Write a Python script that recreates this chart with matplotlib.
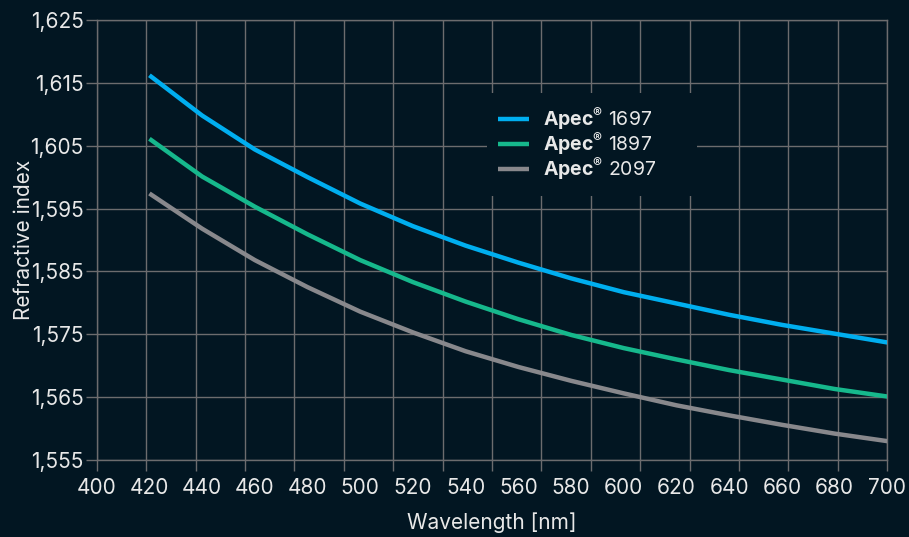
import matplotlib
matplotlib.use("Agg")
import matplotlib.pyplot as plt
from matplotlib.patches import Rectangle
import numpy as np

plt.rcParams['font.family'] = ['Inter', 'DejaVu Sans']
plt.rcParams['mathtext.fontset'] = 'custom'
plt.rcParams['mathtext.rm'] = 'Inter'
plt.rcParams['mathtext.bf'] = 'Inter:bold'

# data
wavelength = [420, 440, 460, 480, 500, 520, 540, 560, 580, 600, 620, 640, 660, 680, 700]
apec_1697 = [1.6162, 1.6098, 1.6044, 1.6000, 1.5958, 1.5922, 1.5891, 1.5864, 1.5839,
             1.5817, 1.5799, 1.5781, 1.5765, 1.5751, 1.5737]
apec_1897 = [1.6061, 1.6001, 1.5953, 1.5909, 1.5868, 1.5833, 1.5802, 1.5774, 1.5749,
             1.5728, 1.5710, 1.5693, 1.5678, 1.5663, 1.5651]
apec_2097 = [1.5974, 1.5918, 1.5868, 1.5825, 1.5786, 1.5753, 1.5723, 1.5698, 1.5676,
             1.5656, 1.5637, 1.5621, 1.5606, 1.5592, 1.5580]
labels = ["1697", "1897", "2097"]
colors = ["#00aeef", "#16b88c", "#88888c"]

x_labels = list(range(400, 701, 20))
y_ticks = [1.555, 1.565, 1.575, 1.585, 1.595, 1.605, 1.615, 1.625]

bg = "#021622"
grid_c = "#6c6c6e"
text_c = "#e8e8e8"

fig = plt.figure(figsize=(9.09, 5.37), dpi=100, facecolor=bg)
ax = fig.add_axes([0.1064, 0.1434, 0.8697, 0.8194], facecolor=bg)
ax.set_axisbelow(True)

for ys, lab, c in zip([apec_1697, apec_1897, apec_2097], labels, colors):
    ax.plot(wavelength, ys, color=c, lw=3.2, solid_capstyle='butt', zorder=3,
            label=r"$\mathbf{Apec^{®}}$ " + lab)

ax.set_xlim(400, 700)
ax.set_ylim(1.555, 1.625)

# grid uses 16 divisions, labels every 20 nm
ax.xaxis.remove_overlapping_locs = False
ax.set_xticks(np.linspace(400, 700, 17))
ax.set_xticklabels([])
ax.set_xticks(x_labels, minor=True)
ax.set_xticklabels([str(v) for v in x_labels], minor=True)
ax.tick_params(axis='x', which='major', length=8, width=1, color=grid_c)
ax.tick_params(axis='x', which='minor', length=0, pad=13, labelsize=15, labelcolor=text_c)

ax.set_yticks(y_ticks)
ax.set_yticklabels([f"{v:.3f}".replace(".", ",") for v in y_ticks])
ax.tick_params(axis='y', length=8, width=1, color=grid_c, pad=1.5, labelsize=15,
               labelcolor=text_c)

ax.grid(True, color=grid_c, lw=1)
for s in ax.spines.values():
    s.set_color(grid_c)
    s.set_linewidth(1)

ax.set_xlabel("Wavelength [nm]", fontsize=15, color=text_c, labelpad=10)
ax.set_ylabel("Refractive index", fontsize=15, color=text_c, labelpad=-3)

# legend box hides grid
ax.add_patch(Rectangle((0.4937, 0.60), 0.2656, 0.234, transform=ax.transAxes,
                       facecolor=bg, edgecolor='none', zorder=1))
leg = ax.legend(loc='upper left', bbox_to_anchor=(0.5076, 0.806), frameon=False,
                borderpad=0, borderaxespad=0, handlelength=1.6, handletextpad=0.7,
                labelspacing=-0.05, fontsize=14)
for t in leg.get_texts():
    t.set_color(text_c)

fig.savefig("out.png", dpi=100, facecolor=bg)
